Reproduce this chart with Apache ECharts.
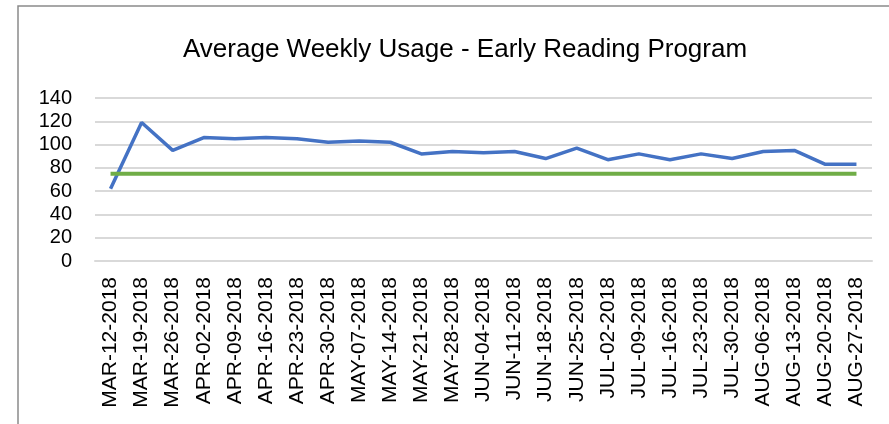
<!DOCTYPE html>
<html style="height: 100%">
   <head>
       <meta charset="utf-8">
   </head>
   <body style="height: 100%; margin: 0; background: #fff">
       <div id="container" style="width: 889px; height: 424px"></div>
       <script type="text/javascript" src="https://cdn.jsdelivr.net/npm/echarts@6/dist/echarts.min.js"></script>
       <script type="text/javascript">
// weekly dates on the x axis
var weeks = ['MAR-12-2018', 'MAR-19-2018', 'MAR-26-2018', 'APR-02-2018', 'APR-09-2018',
    'APR-16-2018', 'APR-23-2018', 'APR-30-2018', 'MAY-07-2018', 'MAY-14-2018',
    'MAY-21-2018', 'MAY-28-2018', 'JUN-04-2018', 'JUN-11-2018', 'JUN-18-2018',
    'JUN-25-2018', 'JUL-02-2018', 'JUL-09-2018', 'JUL-16-2018', 'JUL-23-2018',
    'JUL-30-2018', 'AUG-06-2018', 'AUG-13-2018', 'AUG-20-2018', 'AUG-27-2018'];
// average weekly usage (blue)
var usage = [62, 119, 95, 106, 105, 106, 105, 102, 103, 102, 92, 94, 93, 94, 88,
    97, 87, 92, 87, 92, 88, 94, 95, 83, 83];
// goal line (green)
var goal = [75, 75, 75, 75, 75, 75, 75, 75, 75, 75, 75, 75, 75, 75, 75,
    75, 75, 75, 75, 75, 75, 75, 75, 75, 75];

var dom = document.getElementById("container");
var myChart = echarts.init(dom);
var option = {
    backgroundColor: '#fff',
    animation: false,
    title: {
        text: 'Average Weekly Usage - Early Reading Program',
        left: 178,
        top: 32,
        textStyle: {
            fontFamily: 'Liberation Sans',
            fontSize: 26,
            fontWeight: 'normal',
            color: '#000'
        }
    },
    graphic: [{
        type: 'rect',
        shape: {x: 18, y: 6, width: 900, height: 450},
        style: {fill: 'none', stroke: '#8a8a8a', lineWidth: 1.5},
        silent: true
    }],
    grid: {
        left: 95,
        right: 17,
        top: 98,
        bottom: 163
    },
    xAxis: {
        type: 'category',
        data: weeks,
        boundaryGap: true,
        axisLine: {lineStyle: {color: '#d9d9d9', width: 2}},
        axisTick: {show: false},
        axisLabel: {
            rotate: 90,
            interval: 0,
            margin: 16,
            fontFamily: 'Liberation Sans',
            fontSize: 21,
            color: '#000'
        }
    },
    yAxis: {
        type: 'value',
        min: 0,
        max: 140,
        interval: 20,
        axisLine: {show: false},
        axisTick: {show: false},
        splitLine: {lineStyle: {color: '#d9d9d9', width: 2}},
        axisLabel: {
            margin: 23,
            fontFamily: 'Liberation Sans',
            fontSize: 20,
            color: '#000'
        }
    },
    series: [
        {
            name: 'Usage',
            type: 'line',
            data: usage,
            symbol: 'none',
            lineStyle: {color: '#4472c4', width: 3.5}
        },
        {
            name: 'Goal',
            type: 'line',
            data: goal,
            symbol: 'none',
            lineStyle: {color: '#70ad47', width: 4}
        }
    ]
};
myChart.setOption(option);
       </script>
   </body>
</html>
